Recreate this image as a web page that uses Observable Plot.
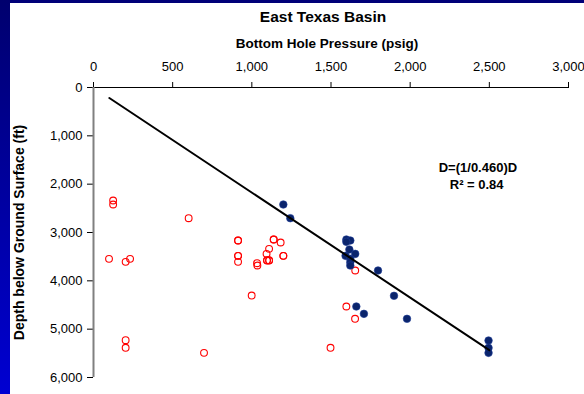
<!DOCTYPE html>
<html>
<head>
<meta charset="utf-8">
<script src="https://cdn.jsdelivr.net/npm/d3@7"></script>
<script src="https://cdn.jsdelivr.net/npm/@observablehq/plot@0.6"></script>
<style>
  html, body { margin: 0; padding: 0; background: #ffffff; }
  #wrap { position: relative; width: 584px; height: 394px; overflow: hidden; font-family: Arial, "Liberation Sans", sans-serif; background: #ffffff; }
  #leftband { position: absolute; left: 0; top: 0; width: 10px; height: 394px; background: linear-gradient(#00006e, #0000d2); z-index: 3; }
  #topband { position: absolute; left: 0; top: 0; width: 584px; height: 3px; background: #000078; z-index: 3; }
  .ttl { position: absolute; transform: translateX(-50%); white-space: nowrap; font-weight: bold; color: #000; line-height: 1; z-index: 2; }
  #title { left: 323px; top: 9px; font-size: 15.5px; }
  #subtitle { left: 327px; top: 37px; font-size: 13.5px; }
  #chart { position: absolute; left: 0; top: 0; }
  g[aria-label="y-axis label"] text { font-weight: bold; font-size: 14px; }
  g[aria-label="text"] text { font-weight: bold; }
</style>
</head>
<body>
<div id="wrap">
  <div id="topband"></div>
  <div id="leftband"></div>
  <div id="title" class="ttl">East Texas Basin</div>
  <div id="subtitle" class="ttl">Bottom Hole Pressure (psig)</div>
  <div id="chart"></div>
</div>
<script>
// Tick values
const xTicks = [0, 500, 1000, 1500, 2000, 2500, 3000];
const yTicks = [0, 1000, 2000, 3000, 4000, 5000, 6000];

// Open red circles: bottom hole pressure (psig) and depth (ft)
const redPressure = [124, 124, 601, 98, 203, 231, 913, 913, 913, 913, 913, 1033, 1035, 1093, 1109, 1096, 1109, 1096, 1109, 1138, 1138, 1182, 1199, 1199, 999, 203, 203, 698, 1653, 1597, 1652, 1497];
const redDepth    = [2338, 2421, 2704, 3545, 3607, 3545, 3166, 3166, 3483, 3483, 3607, 3635, 3683, 3442, 3338, 3580, 3580, 3575, 3575, 3145, 3145, 3207, 3483, 3483, 4304, 5228, 5386, 5490, 3786, 4531, 4786, 5386];

// Filled navy circles
const navyPressure = [1199, 1243, 1597, 1622, 1597, 1616, 1653, 1592, 1622, 1622, 1622, 1797, 1898, 1660, 1708, 1980, 2495, 2495, 2495];
const navyDepth    = [2421, 2704, 3145, 3166, 3193, 3352, 3442, 3483, 3545, 3614, 3683, 3786, 4310, 4531, 4683, 4786, 5235, 5386, 5490];

// Trend line endpoints (D = P / 0.460)
const linePressure = [100, 2500];
const lineDepth = [217, 5435];

// Annotation
const noteText = ["D=(1/0.460)D", "R\u00B2 = 0.84"];
const notePressure = [2428, 2420];
const noteDepth = [1670, 2010];

const red = redPressure.map((p, i) => ({p, d: redDepth[i]}));
const navy = navyPressure.map((p, i) => ({p, d: navyDepth[i]}));
const trend = linePressure.map((p, i) => ({p, d: lineDepth[i]}));
const notes = noteText.map((t, i) => ({t, p: notePressure[i], d: noteDepth[i]}));

const chart = Plot.plot({
  width: 584,
  height: 394,
  marginLeft: 93,
  marginRight: 16,
  marginTop: 87,
  marginBottom: 17,
  style: { fontFamily: "Arial, 'Liberation Sans', sans-serif", fontSize: "13px", background: "transparent", color: "#000", overflow: "visible" },
  x: { domain: [0, 3000] },
  y: { domain: [0, 6000], reverse: true },
  marks: [
    Plot.axisX({ anchor: "top", ticks: xTicks, tickFormat: d3.format(","), tickSize: 6, tickPadding: 11, label: null, fontSize: 13 }),
    Plot.axisY({ anchor: "left", ticks: yTicks, tickFormat: d3.format(","), tickSize: 6, tickPadding: 5, fontSize: 13,
      label: "Depth below Ground Surface (ft)", labelAnchor: "center", labelOffset: 79, labelArrow: "none" }),
    Plot.ruleY([0], { stroke: "#000", strokeWidth: 1.2 }),
    Plot.ruleX([0], { stroke: "#808080", strokeWidth: 2 }),
    Plot.dot(red, { x: "p", y: "d", r: 3.4, stroke: "#ff0000", strokeWidth: 1.1, fill: "none" }),
    Plot.dot(navy, { x: "p", y: "d", r: 3.8, fill: "#0a246c", stroke: "#1c3a96", strokeWidth: 0.6 }),
    Plot.line(trend, { x: "p", y: "d", stroke: "#000", strokeWidth: 2 }),
    Plot.text(notes, { x: "p", y: "d", text: "t", fontSize: 13, fill: "#000", textAnchor: "middle" })
  ]
});
document.getElementById("chart").appendChild(chart);
</script>
</body>
</html>
